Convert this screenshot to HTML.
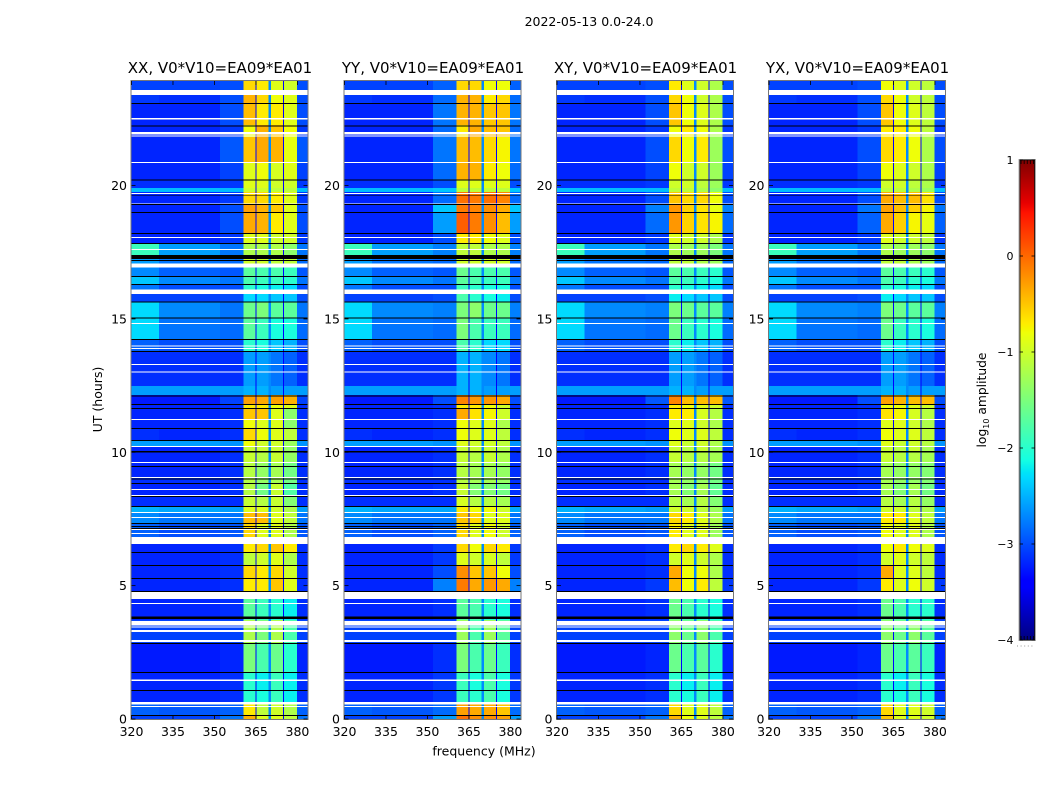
<!DOCTYPE html>
<html>
<head>
<meta charset="utf-8">
<title>2022-05-13 0.0-24.0</title>
<style>
html,body{margin:0;padding:0;background:#fff;}
svg{display:block;font-family:"DejaVu Sans","Liberation Sans",sans-serif;fill:#000;}
</style>
</head>
<body>
<svg id="figure" xmlns="http://www.w3.org/2000/svg" width="1050" height="800" viewBox="0 0 1050 800">
<text x="589" y="26" font-size="12.5" text-anchor="middle">2022-05-13 0.0-24.0</text>
<text transform="translate(102,399.5) rotate(-90)" font-size="12.5" text-anchor="middle">UT (hours)</text>
<text x="484" y="755.5" font-size="12.5" text-anchor="middle">frequency (MHz)</text>
<text transform="translate(986,400) rotate(-90)" font-size="12.3" text-anchor="middle">log<tspan font-size="8" dy="3">10</tspan><tspan dy="-3"> amplitude</tspan></text>
<g id="panels"></g>
<g id="colorbar"></g>
</svg>
<script>
// ---- Data ----
const panelTitles = ["XX, V0*V10=EA09*EA01", "YY, V0*V10=EA09*EA01", "XY, V0*V10=EA09*EA01", "YX, V0*V10=EA09*EA01"];
const freqTicks = [320, 335, 350, 365, 380];
const hourTicks = [0, 5, 10, 15, 20];
const colorTicks = [1, 0, -1, -2, -3, -4];
// frequency column edges (MHz)
const freqEdges = [320, 330, 352, 360.5, 364.85, 365.25, 369.6, 370.4, 374.8, 375.2, 379.8, 384];
// amplitude in the gaps between the four sub-bands
const gapLevels = [-3.4, -2.7, -3.4];
// upper hour of each time band, top to bottom; last band ends at 0
const bandTops = [23.92,23.58,23.09,22.27,21.82,20.88,20.21,19.91,19.76,19.31,19.01,18.22,17.84,17.39,17.24,16.94,16.61,16.31,15.93,15.63,15.03,14.25,13.80,12.48,12.15,11.81,11.66,11.25,10.91,10.46,10.23,10.01,9.63,9.03,8.85,8.36,7.99,7.76,7.35,6.82,6.56,6.26,5.77,5.29,4.80,4.50,3.71,2.85,1.76,1.09,0.56,0.15];
// off-band log10 amplitude per time band: [320-330 MHz, 330-352 MHz]
const offBandLevels = [[-3.05,-3.05],[-3.1,-3.15],[-3.2,-3.2],[-3.2,-3.2],[-3.2,-3.2],[-3.2,-3.2],[-3.15,-3.15],[-2.45,-2.45],[-3.2,-3.2],[-3.2,-3.2],[-3.2,-3.2],[-3.2,-3.2],[-1.9,-2.6],[-2.8,-2.9],[-2.6,-2.8],[-2.7,-2.9],[-2.4,-2.7],[-2.8,-3.0],[-3.05,-3.05],[-2.3,-2.7],[-2.3,-2.8],[-2.9,-3.0],[-3.15,-3.15],[-2.6,-2.6],[-3.25,-3.25],[-3.2,-3.2],[-3.2,-3.2],[-3.2,-3.2],[-3.15,-3.2],[-2.6,-2.6],[-3.2,-3.2],[-3.2,-3.2],[-3.2,-3.2],[-3.15,-3.15],[-3.2,-3.2],[-3.15,-3.15],[-2.5,-2.55],[-2.7,-2.8],[-2.9,-3.0],[-3.1,-3.1],[-3.2,-3.2],[-3.2,-3.2],[-3.2,-3.2],[-3.2,-3.2],[-3.2,-3.2],[-3.2,-3.2],[-3.05,-3.05],[-3.25,-3.25],[-3.2,-3.2],[-3.2,-3.2],[-2.9,-2.95],[-3.05,-3.05]];
// per-band values: [352-360 MHz shoulder, sub-band 1, 2, 3, 4]
const levelsXX = [[-3.0,-0.6,-0.7,-0.9,-1.0],[-3.0,-0.4,-0.6,-0.8,-0.9],[-3.0,-0.45,-0.7,-0.7,-0.9],[-3.1,-0.8,-0.4,-0.5,-0.8],[-2.95,-0.5,-0.35,-0.4,-0.85],[-3.05,-0.9,-0.8,-0.95,-0.9],[-3.1,-0.9,-0.9,-1.0,-1.0],[-2.45,-1.0,-1.0,-1.1,-1.1],[-3.1,-0.6,-0.6,-0.7,-0.9],[-3.0,-0.3,-0.4,-0.5,-0.9],[-3.0,-0.35,-0.4,-0.7,-0.9],[-3.1,-0.9,-0.9,-1.0,-1.0],[-2.8,-1.2,-1.2,-1.2,-1.4],[-2.9,-1.4,-1.4,-1.4,-1.5],[-2.85,-1.0,-1.0,-1.1,-1.1],[-2.95,-1.7,-1.8,-1.8,-1.9],[-2.8,-1.8,-1.9,-1.9,-2.0],[-3.0,-2.0,-2.1,-2.2,-2.3],[-3.0,-2.3,-2.3,-2.4,-2.4],[-2.8,-1.6,-1.5,-1.7,-1.7],[-2.85,-1.7,-1.9,-2.1,-2.1],[-3.0,-2.0,-2.1,-2.4,-2.5],[-3.15,-2.6,-2.6,-2.8,-2.9],[-2.6,-2.5,-2.5,-2.6,-2.6],[-3.05,-0.3,-0.35,-0.3,-0.4],[-3.15,-0.7,-0.7,-0.8,-0.9],[-3.15,-0.5,-0.5,-0.9,-1.4],[-3.15,-0.8,-0.9,-0.9,-1.4],[-3.15,-0.6,-0.8,-0.9,-1.1],[-2.65,-0.8,-1.0,-1.0,-1.3],[-3.15,-1.05,-1.05,-1.05,-1.35],[-3.15,-1.05,-1.15,-1.05,-1.35],[-3.15,-1.15,-1.35,-1.25,-1.55],[-3.15,-1.15,-1.35,-1.25,-1.55],[-3.15,-1.15,-1.55,-1.05,-1.75],[-3.15,-1.05,-1.15,-1.05,-1.45],[-2.6,-0.9,-0.9,-1.0,-1.2],[-2.8,-0.45,-0.45,-0.9,-1.1],[-2.95,-0.6,-0.9,-0.9,-1.2],[-3.1,-1.0,-1.0,-1.0,-1.2],[-3.15,-0.7,-0.6,-0.5,-0.7],[-3.15,-1.1,-1.0,-0.9,-1.2],[-3.15,-0.6,-0.7,-0.6,-1.0],[-3.15,-0.7,-0.7,-0.5,-0.9],[-3.15,-1.5,-1.6,-1.7,-1.9],[-3.15,-1.7,-1.9,-2.0,-2.2],[-3.05,-1.2,-1.5,-1.2,-1.8],[-3.2,-1.5,-1.8,-1.6,-2.0],[-3.15,-2.0,-2.2,-1.9,-2.2],[-3.15,-2.0,-2.1,-1.9,-2.2],[-2.9,-0.7,-1.1,-1.0,-1.2],[-2.8,-0.4,-0.9,-0.9,-1.1]];
const levelsYY = [[-2.9,-0.6,-0.6,-0.8,-0.8],[-2.85,-0.4,-0.4,-0.7,-0.6],[-2.8,-0.4,-0.4,-0.5,-0.5],[-2.85,-0.7,-0.35,-0.45,-0.5],[-2.8,-0.45,-0.45,-0.6,-0.75],[-2.85,-0.4,-0.4,-0.7,-0.8],[-3.0,-0.9,-0.9,-0.9,-0.9],[-2.4,-1.1,-1.1,-1.1,-1.1],[-2.85,-0.05,-0.1,-0.05,-0.15],[-2.4,-0.1,-0.15,-0.2,-0.35],[-2.6,0.05,-0.1,-0.2,-0.45],[-3.0,-0.7,-0.7,-0.8,-0.9],[-2.75,-1.1,-1.1,-1.2,-1.2],[-2.9,-1.5,-1.5,-1.5,-1.5],[-2.85,-1.0,-1.0,-1.0,-1.0],[-2.95,-1.6,-1.8,-1.8,-1.8],[-2.8,-1.7,-1.8,-1.9,-1.9],[-3.0,-1.9,-2.0,-2.1,-2.1],[-3.0,-1.8,-2.0,-2.1,-2.2],[-2.75,-1.5,-1.4,-1.6,-1.6],[-2.85,-1.5,-1.8,-1.9,-1.9],[-3.0,-1.8,-2.0,-2.3,-2.3],[-3.15,-2.5,-2.5,-2.7,-2.8],[-2.6,-2.5,-2.5,-2.6,-2.6],[-3.0,-0.15,-0.25,-0.25,-0.35],[-3.15,-0.7,-0.7,-0.8,-1.0],[-3.15,-0.35,-0.65,-0.75,-1.0],[-3.15,-0.8,-0.9,-0.9,-1.2],[-3.15,-0.8,-0.9,-0.9,-1.1],[-2.65,-0.9,-1.0,-1.0,-1.1],[-3.15,-1.05,-1.05,-1.05,-1.2],[-3.15,-1.05,-1.15,-1.05,-1.2],[-3.15,-1.15,-1.25,-1.25,-1.35],[-3.15,-1.15,-1.25,-1.25,-1.35],[-3.15,-1.05,-1.45,-1.45,-1.55],[-3.15,-0.95,-1.15,-1.15,-1.25],[-2.55,-0.7,-0.8,-0.8,-1.0],[-2.8,-0.5,-0.6,-0.9,-0.9],[-2.9,-0.6,-0.9,-0.8,-1.0],[-3.1,-1.0,-1.0,-1.0,-1.0],[-3.1,-0.6,-0.8,-0.6,-0.7],[-3.1,-0.9,-1.0,-0.95,-1.1],[-3.0,-0.2,-0.5,-0.5,-0.8],[-2.75,-0.1,-0.35,-0.25,-0.35],[-3.15,-1.5,-1.6,-1.8,-1.9],[-3.15,-1.7,-1.8,-2.0,-2.1],[-3.05,-1.3,-1.8,-1.3,-1.7],[-3.15,-1.5,-1.8,-1.6,-1.9],[-3.1,-1.9,-2.1,-1.8,-2.1],[-3.1,-1.9,-2.0,-1.8,-2.1],[-2.85,-0.3,-0.35,-0.35,-0.5],[-2.6,-0.05,-0.2,-0.2,-0.3]];
const levelsXY = [[-3.0,-0.7,-0.9,-1.0,-1.2],[-3.0,-0.6,-0.8,-1.0,-1.2],[-3.0,-0.5,-0.8,-0.9,-1.2],[-3.1,-0.8,-0.7,-0.8,-1.2],[-3.0,-0.6,-0.8,-0.7,-1.3],[-3.05,-0.8,-1.0,-1.0,-1.3],[-3.1,-1.0,-1.0,-1.1,-1.3],[-2.45,-1.1,-1.1,-1.2,-1.4],[-3.0,-0.5,-0.6,-0.6,-0.8],[-2.75,-0.25,-0.55,-0.65,-0.85],[-2.85,-0.25,-0.55,-0.65,-0.75],[-3.1,-0.9,-1.0,-1.0,-1.2],[-2.8,-1.2,-1.3,-1.3,-1.5],[-2.9,-1.5,-1.5,-1.5,-1.6],[-2.85,-1.1,-1.1,-1.2,-1.3],[-2.95,-1.7,-1.8,-1.9,-2.0],[-2.8,-1.8,-1.9,-2.0,-2.1],[-3.0,-2.0,-2.1,-2.2,-2.3],[-3.0,-2.2,-2.3,-2.4,-2.4],[-2.75,-1.5,-1.6,-1.7,-1.7],[-2.85,-1.6,-1.9,-2.0,-2.1],[-3.0,-2.0,-2.2,-2.4,-2.5],[-3.15,-2.6,-2.6,-2.8,-2.9],[-2.6,-2.5,-2.5,-2.6,-2.6],[-2.95,-0.15,-0.45,-0.45,-0.45],[-3.15,-0.7,-0.8,-0.9,-1.0],[-3.15,-0.7,-0.7,-0.95,-1.15],[-3.15,-0.9,-0.9,-1.0,-1.2],[-3.15,-0.8,-0.9,-0.9,-1.1],[-2.65,-0.9,-1.05,-1.0,-1.2],[-3.15,-1.05,-1.15,-1.05,-1.25],[-3.15,-1.05,-1.15,-1.15,-1.25],[-3.15,-1.25,-1.35,-1.35,-1.55],[-3.15,-1.25,-1.35,-1.35,-1.55],[-3.15,-1.25,-1.45,-1.25,-1.65],[-3.15,-1.15,-1.25,-1.15,-1.45],[-2.6,-1.0,-1.0,-1.1,-1.3],[-2.8,-0.6,-0.7,-0.9,-1.2],[-2.95,-0.7,-0.9,-0.9,-1.3],[-3.1,-1.0,-1.0,-1.0,-1.2],[-3.15,-0.7,-0.6,-0.7,-0.9],[-3.15,-1.0,-0.9,-1.0,-1.2],[-3.15,-0.35,-0.8,-0.8,-1.2],[-3.1,-0.45,-0.8,-0.7,-1.1],[-3.15,-1.5,-1.6,-1.7,-1.9],[-3.15,-1.6,-1.8,-2.0,-2.1],[-3.05,-1.4,-1.6,-1.4,-1.8],[-3.2,-1.6,-1.8,-1.7,-2.0],[-3.15,-2.0,-2.2,-1.9,-2.2],[-3.15,-2.0,-2.1,-1.9,-2.2],[-2.9,-0.6,-0.9,-0.9,-1.1],[-2.8,-0.4,-0.8,-0.9,-1.1]];
const levelsYX = [[-3.0,-0.8,-0.9,-1.0,-1.1],[-3.0,-0.6,-0.8,-1.0,-1.1],[-3.0,-0.5,-0.8,-0.9,-1.1],[-3.1,-0.7,-0.7,-0.8,-1.1],[-3.0,-0.6,-0.7,-0.8,-1.2],[-3.05,-0.8,-0.9,-1.0,-1.2],[-3.1,-1.0,-1.0,-1.1,-1.2],[-2.45,-1.1,-1.1,-1.2,-1.3],[-3.0,-0.35,-0.45,-0.45,-0.65],[-2.8,-0.3,-0.45,-0.55,-0.75],[-2.9,-0.35,-0.55,-0.75,-0.85],[-3.1,-0.9,-1.0,-1.0,-1.1],[-2.8,-1.2,-1.3,-1.3,-1.4],[-2.9,-1.5,-1.5,-1.5,-1.6],[-2.85,-1.1,-1.1,-1.2,-1.3],[-2.95,-1.7,-1.8,-1.9,-2.0],[-2.8,-1.8,-1.9,-2.0,-2.1],[-3.0,-2.0,-2.1,-2.2,-2.3],[-3.0,-2.2,-2.3,-2.4,-2.4],[-2.75,-1.5,-1.6,-1.7,-1.7],[-2.85,-1.6,-1.9,-2.0,-2.1],[-3.0,-2.0,-2.2,-2.4,-2.5],[-3.15,-2.6,-2.6,-2.8,-2.9],[-2.6,-2.5,-2.5,-2.6,-2.6],[-3.0,-0.3,-0.4,-0.45,-0.45],[-3.15,-0.8,-0.8,-0.9,-1.0],[-3.15,-0.65,-0.75,-0.95,-1.15],[-3.15,-0.9,-0.9,-1.0,-1.2],[-3.15,-0.8,-0.9,-0.9,-1.1],[-2.65,-0.9,-1.05,-1.0,-1.15],[-3.15,-1.05,-1.15,-1.05,-1.25],[-3.15,-1.05,-1.15,-1.15,-1.25],[-3.15,-1.25,-1.35,-1.35,-1.45],[-3.15,-1.25,-1.35,-1.35,-1.45],[-3.15,-1.25,-1.45,-1.25,-1.55],[-3.15,-1.15,-1.25,-1.15,-1.35],[-2.6,-1.0,-1.0,-1.1,-1.2],[-2.8,-0.7,-0.7,-0.9,-1.1],[-2.95,-0.8,-0.9,-0.9,-1.2],[-3.1,-1.0,-1.0,-1.0,-1.1],[-3.15,-0.8,-0.7,-0.8,-0.9],[-3.15,-1.0,-0.9,-1.0,-1.1],[-3.15,-0.35,-0.9,-0.9,-1.1],[-3.1,-0.7,-0.9,-0.8,-1.0],[-3.15,-1.5,-1.6,-1.7,-1.8],[-3.15,-1.6,-1.8,-2.0,-2.0],[-3.05,-1.4,-1.6,-1.4,-1.7],[-3.2,-1.6,-1.8,-1.7,-1.9],[-3.15,-2.0,-2.2,-1.9,-2.1],[-3.15,-2.0,-2.1,-1.9,-2.1],[-2.9,-0.6,-0.9,-0.9,-1.0],[-2.8,-0.5,-0.9,-0.9,-1.0]];
const panelLevels = [levelsXX, levelsYY, levelsXY, levelsYX];
// flagged time ranges (hours): no data (white) and zeroed (black)
const blankRanges = [[23.58,23.39],[22.53,22.47],[22.0,21.91],[21.87,21.84],[20.89,20.85],[19.73,19.68],[19.33,19.3],[18.07,18.03],[17.62,17.58],[17.08,16.93],[16.11,15.93],[14.85,14.81],[14.01,13.97],[13.91,13.87],[13.31,13.27],[13.03,13.0],[11.25,11.21],[10.23,10.2],[9.63,9.6],[9.07,9.03],[8.62,8.58],[8.4,8.36],[7.76,7.72],[7.57,7.54],[7.12,7.09],[6.97,6.94],[6.82,6.56],[4.77,4.5],[4.35,4.31],[3.67,3.5],[3.47,3.43],[3.34,3.26],[2.96,2.89],[1.49,1.42],[0.64,0.54],[0.49,0.45]];
const zeroRanges = [[23.09,23.05],[22.25,22.21],[20.22,20.19],[19.63,19.6],[19.3,19.27],[19.01,18.97],[18.22,18.18],[17.84,17.81],[17.39,17.24],[17.2,17.17],[16.61,16.57],[16.31,16.27],[15.65,15.61],[15.05,15.01],[14.25,14.21],[13.8,13.76],[12.13,12.09],[11.81,11.77],[11.66,11.62],[10.91,10.87],[10.46,10.42],[10.05,9.99],[9.49,9.45],[9.02,8.98],[8.85,8.81],[8.36,8.32],[7.99,7.95],[7.35,7.31],[7.24,7.2],[7.16,7.12],[6.26,6.22],[5.77,5.74],[5.29,5.25],[4.8,4.76],[3.84,3.75],[2.85,2.81],[1.76,1.72],[1.09,1.05],[0.15,0.11]];

// ---- Layout and scales ----
const panelLefts = [131.5, 344.5, 557, 769];
const panelWidth = 177, plotTop = 81, plotBottom = 719;
const freqMin = 320, freqMax = 384, hourMin = 0, hourMax = 23.92;
const cbLeft = 1019.5, cbRight = 1035, cbTop = 160, cbBottom = 640, cbMin = -4, cbMax = 1;
const NS = "http://www.w3.org/2000/svg";

function xScale(freq, left) { return left + (freq - freqMin) / (freqMax - freqMin) * panelWidth; }
function yScale(hour) { return plotBottom - (hour - hourMin) / (hourMax - hourMin) * (plotBottom - plotTop); }
function cbScale(level) { return cbBottom - (level - cbMin) / (cbMax - cbMin) * (cbBottom - cbTop); }

function seg(t, pts) {
  for (let i = 1; i < pts.length; i++) {
    if (t <= pts[i][0]) {
      const a = pts[i - 1], b = pts[i];
      return a[1] + (b[1] - a[1]) * (t - a[0]) / (b[0] - a[0]);
    }
  }
  return pts[pts.length - 1][1];
}
const jetR = [[0,0],[0.35,0],[0.66,1],[0.89,1],[1,0.5]];
const jetG = [[0,0],[0.125,0],[0.375,1],[0.64,1],[0.91,0],[1,0]];
const jetB = [[0,0.5],[0.11,1],[0.34,1],[0.65,0],[1,0]];
function jet(level) {
  const t = Math.min(1, Math.max(0, (level - cbMin) / (cbMax - cbMin)));
  const c = v => Math.round(v * 255);
  return "rgb(" + c(seg(t, jetR)) + "," + c(seg(t, jetG)) + "," + c(seg(t, jetB)) + ")";
}
function mk(tag, parent, attrs) {
  const el = document.createElementNS(NS, tag);
  for (const k in attrs) el.setAttribute(k, attrs[k]);
  parent.appendChild(el);
  return el;
}

// ---- Panels ----
const panelsRoot = document.getElementById("panels");
panelTitles.forEach(function (title, p) {
  const left = panelLefts[p];
  const g = mk("g", panelsRoot, {});
  
  
  const cells = mk("g", g, {"shape-rendering": "crispEdges"});
  
  
  const levels = panelLevels[p];

  bandTops.forEach(function (top, b) {
    const bottom = b + 1 < bandTops.length ? bandTops[b + 1] : hourMin;
    const off = offBandLevels[b], v = levels[b];
    // one value per frequency column between freqEdges
    const rowValues = [off[0], off[1], v[0], v[1], gapLevels[0], v[2], gapLevels[1], v[3], gapLevels[2], v[4], v[0]];
    rowValues.forEach(function (val, c) {
      const x0 = xScale(freqEdges[c], left), x1 = xScale(freqEdges[c + 1], left);
      const cell = mk("rect", cells, {x: x0, y: yScale(top), width: x1 - x0, height: yScale(bottom) - yScale(top), fill: jet(val)});
      
      
    });
  });

  blankRanges.forEach(function (r) {
    const flag = mk("rect", cells, {x: left, y: yScale(r[0]), width: panelWidth, height: yScale(r[1]) - yScale(r[0]), fill: "#fff"});
    
    
  });
  zeroRanges.forEach(function (r) {
    const flag = mk("rect", cells, {x: left, y: yScale(r[0]), width: panelWidth, height: yScale(r[1]) - yScale(r[0]), fill: "#000"});
    
    
  });

  const frame = mk("rect", g, {x: left - 0.5, y: plotTop - 0.5, width: panelWidth, height: plotBottom - plotTop + 1, fill: "none", stroke: "#777", "stroke-width": 1, "shape-rendering": "crispEdges"});
  
  

  const ttl = mk("text", g, {x: left + panelWidth / 2, y: plotTop - 8, "font-size": 15, "text-anchor": "middle"});
  ttl.textContent = title;
  
  

  freqTicks.forEach(function (f) {
    const x = xScale(f, left);
    const t1 = mk("line", g, {x1: x, x2: x, y1: plotBottom, y2: plotBottom - 4, stroke: "#000", "stroke-width": 0.8});
    
    
    const t2 = mk("line", g, {x1: x, x2: x, y1: plotTop, y2: plotTop + 4, stroke: "#000", "stroke-width": 0.8});
    
    
    const lb = mk("text", g, {x: x, y: 736, "font-size": 12.5, "text-anchor": "middle"});
    lb.textContent = f;
    
    
  });
  hourTicks.forEach(function (h) {
    const y = yScale(h);
    const t1 = mk("line", g, {x1: left, x2: left + 4, y1: y, y2: y, stroke: "#000", "stroke-width": 0.8});
    
    
    const t2 = mk("line", g, {x1: left + panelWidth - 1, x2: left + panelWidth - 5, y1: y, y2: y, stroke: "#000", "stroke-width": 0.8});
    
    
    const lb = mk("text", g, {x: left - 4.5, y: y + 4.5, "font-size": 12.5, "text-anchor": "end"});
    lb.textContent = h;
    
    
  });
});

// ---- Colorbar ----
const cb = document.getElementById("colorbar");
const cbRamp = mk("g", cb, {"shape-rendering": "crispEdges"});


for (let py = cbTop; py < cbBottom; py++) {
  const lvl = cbMax - (py + 0.5 - cbTop) / (cbBottom - cbTop) * (cbMax - cbMin);
  const step = mk("rect", cbRamp, {x: cbLeft, y: py, width: cbRight - cbLeft, height: 1.2, fill: jet(lvl)});
  
  
}
const cbOuter = mk("rect", cb, {x: cbLeft - 0.5, y: cbTop - 0.5, width: cbRight - cbLeft + 1, height: cbBottom - cbTop + 1, fill: "none", stroke: "#aaa", "stroke-width": 1, "shape-rendering": "crispEdges"});


const cbInner = mk("rect", cb, {x: cbLeft + 0.5, y: cbTop, width: cbRight - cbLeft - 1, height: cbBottom - cbTop, fill: "none", stroke: "#111", "stroke-width": 0.8});


colorTicks.forEach(function (v) {
  const y = cbScale(v);
  const lb = mk("text", cb, {x: 1013.5, y: y + 3.8, "font-size": 11, "text-anchor": "end"});
  lb.textContent = v < 0 ? "\u2212" + Math.abs(v) : String(v);
  
  
  const t1 = mk("line", cb, {x1: cbLeft, x2: cbLeft + 3.5, y1: y, y2: y, stroke: "#000", "stroke-width": 0.8});
  
  
  const t2 = mk("line", cb, {x1: cbRight - 3.5, x2: cbRight, y1: y, y2: y, stroke: "#000", "stroke-width": 0.8});
  
  
});
const cbFracs = [0.1, 0.3, 0.5, 0.7, 0.9];
cbFracs.forEach(function (fr) {
  const x = cbLeft + fr * (cbRight - cbLeft);
  const t1 = mk("line", cb, {x1: x, x2: x, y1: cbTop, y2: cbTop + 4, stroke: "#000", "stroke-width": 0.8});
  
  
  const t2 = mk("line", cb, {x1: x, x2: x, y1: cbBottom, y2: cbBottom - 4, stroke: "#000", "stroke-width": 0.8});
  
  
});
const cbDots = mk("line", cb, {x1: 1017, x2: 1035, y1: 646, y2: 646, stroke: "#999", "stroke-width": 1, "stroke-dasharray": "1 2.6"});


</script>
</body>
</html>
